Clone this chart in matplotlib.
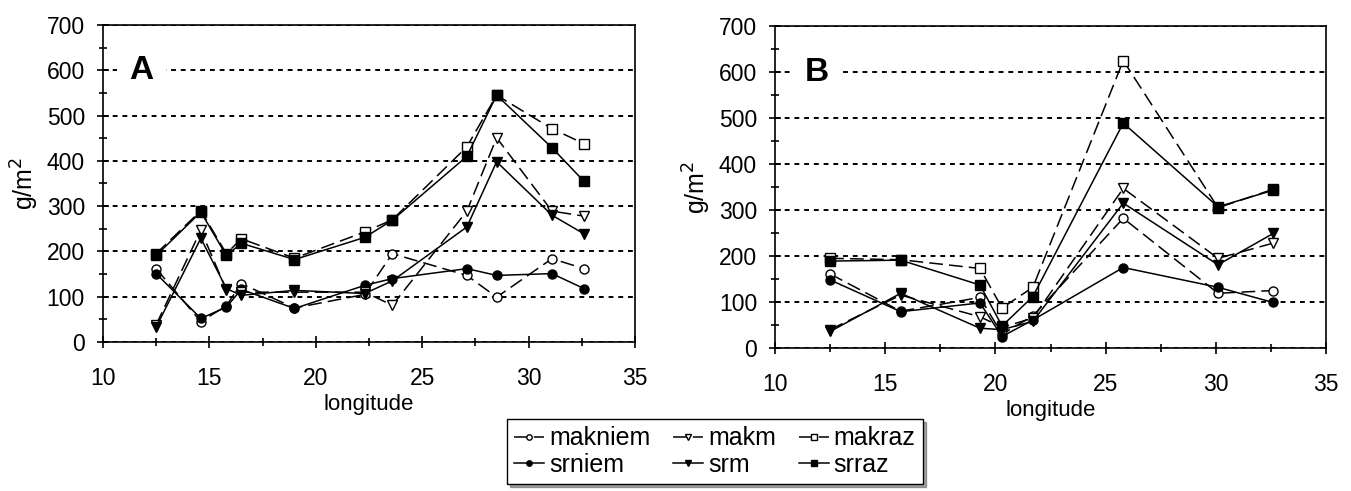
import numpy as np
import matplotlib
matplotlib.use('Agg')
import matplotlib.pyplot as plt
from matplotlib.ticker import MultipleLocator

plt.rcParams['font.family'] = ['Liberation Sans', 'DejaVu Sans']

# panel A data
lon_a = [12.5, 14.6, 15.8, 16.5, 19.0, 22.3, 23.6, 27.1, 28.5, 31.1, 32.6]
makniem_a = [162, 45, 80, 129, 75, 105, 195, 147, 99, 184, 162]
srniem_a = [151, 52, 77, 116, 74, 125, 140, 162, 147, 151, 118]
makm_a = [38, 247, 115, 110, 110, 110, 81, 289, 451, 289, 278]
srm_a = [33, 229, 118, 103, 114, 107, 135, 254, 398, 280, 239]
makraz_a = [195, 290, 195, 228, 185, 243, 270, 431, 545, 471, 438]
srraz_a = [191, 287, 191, 218, 182, 231, 269, 410, 545, 429, 355]

# panel B data
lon_b = [12.5, 15.7, 19.3, 20.3, 21.7, 25.8, 30.1, 32.6]
makniem_b = [161, 80, 110, 30, 70, 282, 119, 125]
srniem_b = [148, 79, 98, 25, 61, 175, 132, 99]
makm_b = [40, 115, 68, 45, 65, 347, 195, 228]
srm_b = [36, 119, 43, 40, 58, 315, 181, 249]
makraz_b = [195, 192, 173, 87, 132, 625, 305, 345]
srraz_b = [189, 191, 137, 48, 112, 489, 307, 343]

names = ['makniem', 'srniem', 'makm', 'srm', 'makraz', 'srraz']
markers = ['o', 'o', 'v', 'v', 's', 's']

fig = plt.figure(figsize=(13.51, 4.91), dpi=100)
ax_a = fig.add_axes([0.0762, 0.3035, 0.3938, 0.6456])
ax_b = fig.add_axes([0.5737, 0.2912, 0.4078, 0.6558])

panels = [
    (ax_a, 'A', 0.05, lon_a, [makniem_a, srniem_a, makm_a, srm_a, makraz_a, srraz_a]),
    (ax_b, 'B', 0.054, lon_b, [makniem_b, srniem_b, makm_b, srm_b, makraz_b, srraz_b]),
]

handles = []
for ax, letter, lx, lon, series in panels:
    hs = []
    for name, mk, vals in zip(names, markers, series):
        open_marker = name.startswith('mak')
        h, = ax.plot(lon, vals, color='black', lw=1.1,
                     ls=(0, (9, 4)) if open_marker else '-',
                     marker=mk, ms=6.5,
                     mfc='white' if open_marker else 'black',
                     mec='black', mew=1.0, label=name)
        hs.append(h)
    handles = hs
    ax.set_xlim(10, 35)
    ax.set_ylim(0, 700)
    ax.set_yticks(np.arange(0, 701, 100))
    ax.set_xticks(np.arange(10, 36, 5))
    ax.xaxis.set_minor_locator(MultipleLocator(2.5))
    ax.yaxis.set_minor_locator(MultipleLocator(50))
    ax.tick_params(axis='both', which='both', direction='inout', labelsize=16.5,
                   width=1.2, color='black')
    ax.tick_params(which='major', length=8)
    ax.tick_params(which='minor', length=6)
    ax.tick_params(axis='x', pad=14)
    ax.tick_params(axis='y', pad=9)
    for sp in ax.spines.values():
        sp.set_linewidth(1.2)
    ax.grid(axis='y', color='black', ls=(0, (2.5, 2.5)), lw=1.4)
    ax.set_axisbelow(True)
    ax.set_xlabel('longitude', fontsize=16, labelpad=3)
    ax.set_ylabel('g/m$^2$', fontsize=18, labelpad=4)
    ax.text(lx, 600, letter, transform=ax.get_yaxis_transform(),
            fontsize=24, fontweight='bold', va='center', ha='left',
            bbox=dict(facecolor='white', edgecolor='none', pad=9))

leg = fig.legend(handles=handles, labels=names, ncol=3,
                 loc='lower left', bbox_to_anchor=(0.366, -0.012),
                 fontsize=18, frameon=True, fancybox=False, shadow=True,
                 handlelength=1.2, handletextpad=0.2, columnspacing=0.9,
                 labelspacing=0.1, borderpad=0.3, markerscale=0.6)
leg.get_frame().set_edgecolor('black')
leg.get_frame().set_linewidth(1.0)

fig.savefig('out.png', dpi=100)
